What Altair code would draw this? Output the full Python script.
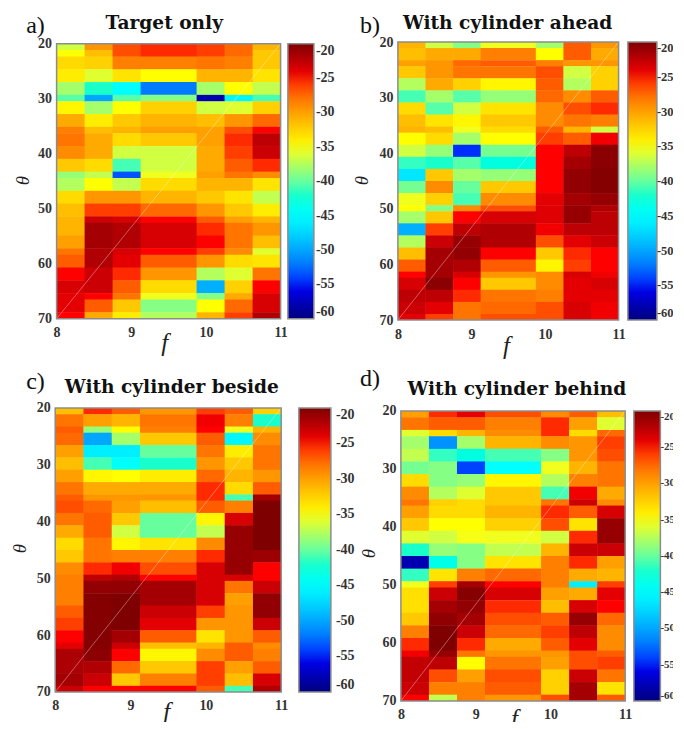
import altair as alt
import pandas as pd

# Each column: (end row, level in dB) runs, top to bottom
F_EDGES = [8, 8.375, 8.75, 9.125, 9.875, 10.25, 10.625, 11]

A_ROWS = 43
A1 = [(1,-36.5),(2,-35),(4,-33),(6,-34),(8,-38),(9,-40.5),(11,-34.5),(13,-30.5),(14,-28.5),(16,-28),(18,-29),(20,-32),(21,-38.5),(23,-37.5),(25,-33),(27,-31.5),(30,-31),(32,-30),(33,-28),(35,-27),(37,-25),(39,-23.5),(42,-24),(43,-25)]
A2 = [(1,-29.5),(2,-31.5),(4,-32.5),(6,-36),(8,-42),(9,-50),(11,-38),(13,-34),(14,-31.5),(18,-30.5),(20,-33),(21,-37),(23,-35),(25,-29.5),(27,-26),(28,-23),(32,-21.5),(35,-22),(39,-23),(40,-25),(42,-27),(43,-30.5)]
A3 = [(2,-26.5),(4,-28.5),(6,-33.5),(8,-45),(9,-40.5),(11,-35),(13,-32),(14,-31),(16,-33),(18,-36.5),(20,-41),(21,-53.5),(23,-37),(25,-29.5),(27,-26),(28,-23.5),(32,-22),(33,-23.5),(35,-24),(37,-25.5),(39,-27),(40,-28),(42,-32),(43,-34)]
A4 = [(2,-25.5),(4,-28.5),(6,-35),(8,-52),(9,-39),(11,-32.5),(13,-31),(14,-30),(16,-32),(20,-36.5),(21,-35.5),(23,-33),(25,-31),(27,-27.5),(28,-25),(32,-23.5),(33,-25),(35,-27),(37,-29.5),(39,-33),(40,-35.5),(42,-39),(43,-37.5)]
A5 = [(2,-26),(4,-28),(6,-31),(8,-38),(9,-58),(11,-36.5),(13,-31.5),(16,-30),(20,-30.5),(21,-30),(23,-31),(25,-32),(27,-29.5),(28,-27),(30,-25.5),(32,-25),(33,-26),(35,-29.5),(37,-37.5),(39,-49.5),(40,-39),(42,-35),(43,-31)]
A6 = [(2,-27.5),(4,-28.5),(6,-31),(8,-35),(9,-45.5),(11,-36),(13,-29.5),(14,-26.5),(16,-25.5),(18,-26),(20,-27),(21,-28),(23,-31),(25,-33.5),(27,-32),(28,-30),(32,-28),(33,-29),(35,-33),(37,-36),(39,-32.5),(40,-30.5),(42,-27.5),(43,-26)]
A7 = [(1,-31),(2,-32),(4,-32),(6,-33.5),(8,-37),(9,-41),(11,-32.5),(13,-27.5),(14,-25),(16,-22.5),(18,-23),(20,-25.5),(21,-29),(23,-33.5),(25,-37),(27,-34),(28,-31),(30,-29.5),(32,-31.5),(33,-36),(35,-33.5),(37,-28),(39,-25),(42,-23.5),(43,-22)]

B_ROWS = 46
B1 = [(1,-31),(3,-31.5),(4,-30),(6,-32),(8,-37.5),(10,-41),(12,-33),(14,-31.5),(15,-31),(17,-35),(19,-36.5),(21,-41.5),(23,-46.5),(25,-39.5),(27,-35.5),(28,-35),(30,-38),(32,-49.5),(34,-37.5),(36,-31.5),(38,-27),(39,-25),(41,-23.5),(43,-22.5),(45,-23),(46,-24)]
B2 = [(1,-36.5),(3,-30.5),(6,-29.5),(8,-30.5),(10,-38),(12,-40.5),(14,-33.5),(15,-31.5),(17,-33),(19,-38.5),(21,-42),(23,-32),(25,-29),(27,-32.5),(28,-39),(30,-32),(32,-26),(34,-23),(39,-21.5),(41,-20.5),(43,-22.5),(45,-24),(46,-26)]
B3 = [(1,-39),(3,-30.5),(4,-27.5),(6,-28),(8,-32.5),(10,-40.5),(12,-36.5),(14,-34.5),(15,-35.5),(17,-38),(19,-54.5),(21,-40.5),(23,-38),(25,-40),(27,-41),(28,-29),(30,-25),(32,-22.5),(34,-21),(36,-20.8),(38,-22),(39,-23.5),(41,-25),(43,-25.5),(46,-28)]
B4 = [(1,-35.5),(3,-28.5),(4,-27),(6,-28),(8,-34.5),(10,-38.5),(12,-33.5),(14,-32),(15,-33),(17,-35),(19,-39.5),(21,-43),(23,-38.5),(25,-32),(27,-29),(28,-26.5),(30,-23.5),(34,-22),(36,-25),(38,-27),(39,-29.5),(41,-32),(43,-28),(45,-27.5),(46,-26.5)]
B5 = [(1,-38),(3,-35),(4,-28.5),(6,-26.5),(8,-27),(10,-27.5),(12,-29),(14,-29),(15,-27),(17,-26),(25,-25),(27,-24),(30,-23.8),(32,-24.5),(34,-26.5),(36,-32),(38,-34.5),(41,-29),(43,-28.5),(46,-26.5)]
B6 = [(3,-27),(4,-29.5),(6,-36.5),(8,-37.5),(10,-29),(12,-26.5),(14,-28),(15,-31),(17,-27),(19,-22.5),(21,-21.5),(25,-20.8),(27,-21.5),(30,-21),(32,-22.5),(34,-24),(36,-25.5),(38,-26),(39,-23.5),(43,-24),(46,-23.5)]
B7 = [(1,-29.5),(3,-30.5),(4,-29.5),(8,-32.5),(10,-27),(12,-25.5),(14,-28.5),(15,-36.5),(17,-24.5),(21,-20.5),(25,-20.2),(27,-21),(28,-22),(32,-22.5),(34,-23),(38,-25),(39,-24.5),(41,-23.5),(43,-24),(46,-24.5)]

C_ROWS = 46
C1 = [(1,-31.5),(3,-28),(4,-27),(6,-27.5),(8,-30),(10,-31.5),(12,-30),(14,-28),(15,-27),(17,-26.5),(19,-28),(21,-30.5),(23,-33),(25,-32),(27,-29),(32,-28.5),(34,-27),(36,-26),(38,-25),(39,-24),(43,-21.8),(45,-21.5),(46,-23)]
C2 = [(1,-25.5),(3,-30),(4,-38.5),(6,-50),(8,-46),(10,-41),(12,-34.5),(14,-30.5),(15,-29.5),(17,-27.5),(21,-27),(25,-28),(27,-25.5),(28,-22.5),(30,-20.8),(39,-20.2),(41,-20.5),(43,-22),(45,-23),(46,-25)]
C3 = [(1,-27),(3,-31),(4,-35),(6,-38),(8,-46),(10,-44.5),(12,-35),(14,-30.5),(15,-29.5),(17,-30),(19,-32),(21,-36.5),(23,-34.5),(25,-28.5),(27,-24.5),(28,-22),(30,-20.8),(36,-20),(38,-21.5),(39,-23),(41,-25),(43,-27.5),(45,-32),(46,-25)]
C4 = [(1,-29.5),(3,-28),(4,-28.5),(6,-32),(8,-40),(10,-42),(12,-34),(14,-30.5),(15,-29.5),(17,-31.5),(21,-40),(23,-33.5),(25,-28.5),(27,-26.5),(28,-25),(32,-21.5),(34,-23),(36,-24),(38,-27),(39,-31.5),(41,-34.5),(43,-32),(45,-28.5),(46,-25)]
C5 = [(1,-26),(3,-24.5),(4,-25),(6,-27),(8,-28),(10,-29.5),(12,-27.5),(15,-25.5),(17,-27),(19,-34.5),(21,-37),(23,-29),(25,-25.5),(32,-23.5),(34,-26),(36,-29.5),(38,-33.5),(39,-31),(41,-29),(45,-26),(46,-27)]
C6 = [(1,-27),(3,-28.5),(4,-35.5),(6,-45.5),(8,-34),(10,-32),(12,-31),(14,-33),(15,-41),(17,-28.5),(19,-23.5),(27,-21),(28,-23.5),(30,-28),(32,-30),(38,-29.5),(41,-27),(43,-30),(45,-31.5),(46,-41)]
C7 = [(1,-32.5),(3,-42),(4,-31),(6,-29),(10,-28),(12,-29.5),(14,-27),(15,-21.5),(23,-20),(25,-21.2),(28,-25),(30,-23),(34,-20.8),(36,-23),(38,-27),(39,-29),(41,-28.5),(43,-27),(45,-23.5),(46,-22)]

D_ROWS = 46
D1 = [(1,-30),(3,-28),(4,-36),(6,-38),(8,-37),(10,-39.5),(12,-33),(14,-29),(15,-28),(17,-30),(19,-32),(21,-36),(23,-42),(25,-58),(27,-41.5),(28,-35.5),(32,-33.3),(34,-32),(36,-28.5),(38,-25.5),(39,-24.5),(43,-22.7),(45,-23),(46,-25)]
D2 = [(1,-25.5),(3,-27),(4,-33),(6,-51),(8,-41.5),(10,-39),(12,-39),(14,-37.5),(15,-32.5),(17,-33),(19,-35),(21,-36.5),(23,-38.5),(25,-43.5),(27,-33.5),(28,-26),(30,-23),(32,-21.5),(34,-20.7),(38,-20),(39,-21),(41,-22.5),(43,-26.5),(45,-28.5),(46,-37)]
D3 = [(1,-24),(3,-27),(4,-31),(6,-38),(8,-43),(10,-54),(12,-38.5),(14,-36),(17,-33),(19,-35),(21,-35.3),(25,-39),(27,-28.5),(28,-21.5),(30,-20.3),(32,-20.8),(34,-21.5),(36,-23),(38,-25.5),(39,-28),(41,-35),(43,-30),(46,-28.5)]
D4 = [(1,-26.5),(3,-28.5),(4,-29),(6,-31),(8,-41),(10,-45),(12,-34.5),(15,-32),(17,-31),(19,-32.5),(21,-35.5),(23,-37),(25,-33.5),(27,-27.5),(28,-25),(30,-23.5),(32,-25.5),(34,-26.5),(36,-27.5),(38,-30.5),(39,-29.5),(41,-28),(43,-26.5),(45,-27),(46,-29.5)]
D5 = [(1,-29),(4,-25.5),(6,-29),(8,-39),(10,-35.5),(12,-37.5),(14,-41),(15,-28),(17,-25.5),(19,-26.5),(21,-36.5),(23,-31),(28,-28.5),(30,-30),(32,-31.5),(34,-27),(36,-26),(38,-27),(39,-29.5),(41,-30),(45,-32.5),(46,-26.5)]
D6 = [(1,-27),(3,-30),(4,-33),(8,-29.5),(10,-31),(12,-28.5),(14,-24.5),(15,-23),(17,-27),(19,-33.5),(21,-25.5),(23,-23),(25,-25.5),(27,-30.5),(28,-46),(30,-30.5),(32,-23.5),(34,-21),(36,-22.5),(38,-24),(41,-26.5),(43,-23),(46,-21.5)]
D7 = [(1,-31.5),(3,-36),(4,-27.5),(6,-26),(8,-26.5),(12,-28),(14,-30.5),(15,-29),(17,-23.5),(21,-21),(23,-23),(25,-30),(27,-31),(28,-26),(30,-24),(32,-25),(34,-27.5),(38,-29),(39,-27),(41,-26),(43,-28),(45,-33.5),(46,-27)]

TITLES = ["Target only", "With cylinder ahead", "With cylinder beside", "With cylinder behind"]
TAGS = ["a)", "b)", "c)", "d)"]
F_TICKS = [8, 9, 10, 11]
THETA_TICKS = [20, 30, 40, 50, 60, 70]
BAR_TICKS = [-20, -25, -30, -35, -40, -45, -50, -55, -60]
JET_DOMAIN = [-60, -55, -45, -35, -25, -20]
JET_RANGE = ["#00007f", "#0000ff", "#00ffff", "#ffff00", "#ff0000", "#7f0000"]

SERIF = "Liberation Serif"
TITLE_FONT = "DejaVu Serif"
BORDER = "#8c8c8c"
OVERLAP_F, OVERLAP_T = 0.006, 0.08


def table(columns, n_rows):
    rows = []
    for c, col in enumerate(columns):
        start = 0
        for end, level in col:
            rows.append({
                "f0": F_EDGES[c],
                "f1": F_EDGES[c + 1] + (OVERLAP_F if c < len(columns) - 1 else 0),
                "t0": 20 + 50 * start / n_rows,
                "t1": 20 + 50 * end / n_rows + (OVERLAP_T if end < n_rows else 0),
                "v": level,
            })
            start = end
    return pd.DataFrame(rows)


def panel(columns, n_rows, W, H, dx, dy, w, h, title, tag, title_xy, tag_xy,
          f_xy, th_xy, bar_x, bar_w, label_off, bar_font):
    data = table(columns, n_rows)
    xs = alt.Scale(domain=[8, 11], range=[dx, dx + w], nice=False, zero=False)
    ys = alt.Scale(domain=[20, 70], range=[dy, dy + h], nice=False, zero=False)
    x_axis = alt.Axis(
        title="f", values=F_TICKS, format="d", grid=False, domain=False, ticks=False,
        labelFont=SERIF, labelFontWeight="bold", labelFontSize=14, labelColor="#333333",
        labelPadding=7, labelOverlap=False, labelFlush=False,
        offset=(dy + h) - H,
        titleFont=SERIF, titleFontStyle="italic", titleFontWeight="normal", titleFontSize=25,
        titleColor="#222222", titleX=f_xy[0], titleY=f_xy[1], titleBaseline="alphabetic")
    y_axis = alt.Axis(
        title="θ", values=THETA_TICKS, format="d", grid=False, domain=False, ticks=False,
        labelFont=SERIF, labelFontWeight="bold", labelFontSize=14, labelColor="#333333",
        labelPadding=5, labelOverlap=False, labelFlush=False,
        offset=-dx,
        titleFont=SERIF, titleFontStyle="italic", titleFontWeight="normal", titleFontSize=19,
        titleColor="#222222", titleX=th_xy[0], titleY=th_xy[1], titleAngle=270,
        titleBaseline="alphabetic")
    color_scale = alt.Scale(domain=JET_DOMAIN, range=JET_RANGE, clamp=True)
    cells = alt.Chart(data).mark_rect(strokeWidth=0).encode(
        x=alt.X("f0:Q", scale=xs, axis=x_axis),
        x2="f1:Q",
        y=alt.Y("t0:Q", scale=ys, axis=y_axis),
        y2="t1:Q",
        color=alt.Color("v:Q", title=None, scale=color_scale,
                        legend=alt.Legend(
                            orient="none", legendX=bar_x, legendY=dy, type="gradient",
                            direction="vertical", gradientLength=h, gradientThickness=bar_w,
                            gradientStrokeColor=BORDER, gradientStrokeWidth=1.5,
                            values=BAR_TICKS, labelFont=SERIF, labelFontWeight="bold",
                            labelExpr="'-' + abs(datum.value)",
                            labelFontSize=bar_font, labelColor="#333333", labelOffset=label_off,
                            labelOverlap=False)),
    )
    frame_row = pd.DataFrame({"a": [8], "b": [11], "c": [70], "d": [20]})
    diagonal = alt.Chart(frame_row).mark_rule(color="white", opacity=0.4, strokeWidth=0.9).encode(
        x=alt.X("a:Q", scale=xs, axis=x_axis), x2="b:Q",
        y=alt.Y("c:Q", scale=ys, axis=y_axis), y2="d:Q")
    border = alt.Chart(frame_row).mark_rect(fillOpacity=0, stroke=BORDER, strokeWidth=1.5).encode(
        x=alt.X("a:Q", scale=xs, axis=x_axis), x2="b:Q",
        y=alt.Y("c:Q", scale=ys, axis=y_axis), y2="d:Q")
    head = alt.Chart(frame_row).mark_text(
        font=TITLE_FONT, fontWeight="bold", fontSize=18.6, color="#111111", align="center",
        baseline="alphabetic", text=title).encode(x=alt.value(title_xy[0]), y=alt.value(title_xy[1]))
    label = alt.Chart(frame_row).mark_text(
        font=SERIF, fontSize=24, color="#111111", align="left",
        baseline="alphabetic", text=tag).encode(x=alt.value(tag_xy[0]), y=alt.value(tag_xy[1]))
    return alt.layer(cells, diagonal, border, head, label).properties(width=W, height=H)


W0, W1, H0, H1 = 226, 228, 278, 293
a = panel([A1, A2, A3, A4, A5, A6, A7], A_ROWS, W0, H0, 1.4, 1.7, 224, 275, TITLES[0], TAGS[0],
          (109, -13), (-29, -9), (109, 32), (-28, 138), 232.7, 26, 2, 14)
b = panel([B1, B2, B3, B4, B5, B6, B7], B_ROWS, W1, H0, 0, 0, 220.7, 278, TITLES[1], TAGS[1],
          (109.7, -13), (-38, -9), (108, 33), (-30, 138), 230, 29, 0, 12.5)
c = panel([C1, C2, C3, C4, C5, C6, C7], C_ROWS, W0, H1, 0, 0, 226, 284, TITLES[2], TAGS[2],
          (116.7, -15), (-29, -19), (111, 28), (-30, 140), 243.7, 32, 5, 14)
d = panel([D1, D2, D3, D4, D5, D6, D7], D_ROWS, W1, H1, 3, 3, 224.3, 290, TITLES[3], TAGS[3],
          (119, -13), (-38, -22), (116, 26), (-26, 145), 236, 26.5, 0, 11)

chart = alt.concat(a, b, c, d, columns=2, spacing={"column": 116.7, "row": 88}, bounds="flush").resolve_scale(
    color="independent", x="independent", y="independent"
).properties(padding={"left": 2.2, "top": 6, "right": -3.5, "bottom": -10}, background="white").configure_view(stroke=None)

chart.save("out.html", embed_options={"renderer": "svg", "actions": False})
